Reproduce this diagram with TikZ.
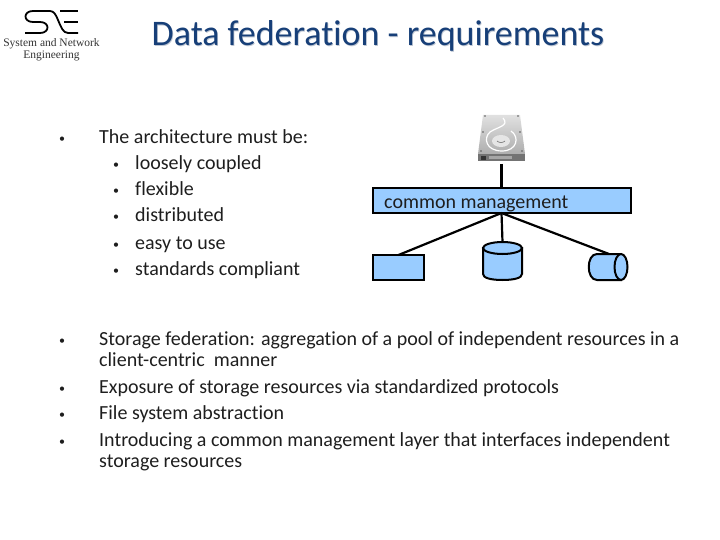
\documentclass[tikz,border=0pt]{standalone}
\usepackage{fontspec}
\setmainfont[Ligatures=NoCommon]{Carlito}
\newfontfamily\logofont{Liberation Serif}
\usetikzlibrary{shapes.geometric}
\definecolor{titleblue}{RGB}{23,63,120}
\definecolor{titleshadow}{RGB}{190,198,210}
\definecolor{fillblue}{RGB}{153,204,255}
\definecolor{bodyink}{RGB}{30,30,30}
\tikzset{
  x=1pt,y=-1pt,
  bodytext/.style={anchor=base west,inner sep=0pt,font=\fontsize{20}{22}\selectfont,text=bodyink},
  bullet/.style={anchor=base west,inner sep=0pt,font=\fontsize{12}{14}\selectfont,text=bodyink},
  shapebox/.style={draw=black,line width=2pt,fill=fillblue},
  link/.style={draw=black,line width=2.2pt},
  logoline/.style={draw=black,line width=1.8pt},
  logotext/.style={anchor=base,inner sep=0pt,font=\logofont\fontsize{11.5}{13}\selectfont,text=black!80},
}
\begin{document}
\begin{tikzpicture}
\useasboundingbox (0,0) rectangle (720,540);
% logo
\draw[logoline] (47,11) -- (33,11) .. controls (23,11) and (23,22) .. (33,22) -- (40,22) .. controls (50,22) and (50,33) .. (40,33) -- (25,33);
\draw[logoline] (47,11) -- (50,11) .. controls (54,11) and (56,15) .. (58,20) .. controls (61,27) and (63,33) .. (68,33) -- (78,33);
\draw[logoline] (60,11) -- (78,11) (64,22) -- (78,22);
\node[logotext] (logoa) at (51.5,47) {System and Network};
\node[logotext] (logob) at (51.5,59) {Engineering};
% title
\node[anchor=base,inner sep=0pt,font=\fontsize{36}{40}\selectfont,text=titleshadow] (titleshade) at (378.7,46.7) {Data federation - requirements};
\node[anchor=base,inner sep=0pt,font=\fontsize{36}{40}\selectfont,text=titleblue] (title) at (378,46) {Data federation - requirements};
% upper list
\node[bullet] (b0) at (59,143) {•};
\node[bodytext] (t0) at (99,144) {The architecture must be:};
\node[bullet] (b1) at (113,169) {•};
\node[bodytext] (t1) at (135,170) {loosely coupled};
\node[bullet] (b2) at (113,195) {•};
\node[bodytext] (t2) at (135,196) {flexible};
\node[bullet] (b3) at (113,221) {•};
\node[bodytext] (t3) at (135,222) {distributed};
\node[bullet] (b4) at (113,248) {•};
\node[bodytext] (t4) at (135,249) {easy to use};
\node[bullet] (b5) at (113,274) {•};
\node[bodytext] (t5) at (135,275) {standards compliant};
% lower list
\node[bullet] (b6) at (59,344) {•};
\node[bodytext] (t6) at (99,345) {Storage federation: aggregation of a pool of independent resources in a};
\node[bodytext] (t6b) at (99,366) {client-centric\ \ manner};
\node[bullet] (b7) at (59,392) {•};
\node[bodytext] (t7) at (99,393) {Exposure of storage resources via standardized protocols};
\node[bullet] (b8) at (59,418) {•};
\node[bodytext] (t8) at (99,419) {File system abstraction};
\node[bullet] (b9) at (59,445) {•};
\node[bodytext] (t9) at (99,446) {Introducing a common management layer that interfaces independent};
\node[bodytext] (t9b) at (99,467) {storage resources};
% disk drawing
\shade[top color=black!12,bottom color=black!32] (483,115) -- (520,115) -- (525,154) -- (478,154) -- cycle;
\fill[black!55] (478,154) -- (525,154) -- (525,161) -- (478,161) -- cycle;
\fill[black!35] (489,156) rectangle (512,159);
\fill[black!80] (481,156) rectangle (486,160);
\draw[white,line width=1.2pt] (503,118) .. controls (510,126) and (497,127) .. (490,132) .. controls (483,138) and (486,151) .. (502,151) .. controls (517,151) and (520,137) .. (511,131);
\fill[black!10] (501,141) ellipse [x radius=9,y radius=6];
\draw[black!55,line width=0.6pt] (497,141) .. controls (499,143) and (503,143) .. (505,141);
\coordinate (diskbottom) at (501.5,164);
\foreach \px/\py in {485/116,518/116,483/132,520/132,481/151,522/151}{\fill[black!65] (\px,\py) circle [radius=0.8];}
% nodes
\node[shapebox,minimum width=258,minimum height=25,anchor=north west,inner sep=0pt,outer sep=0pt] (mgmt) at (373,188) {};
\node[anchor=base west,inner sep=0pt,font=\fontsize{20}{22}\selectfont,text=bodyink] (mgmtlabel) at (384,208) {common management};
\node[shapebox,minimum width=51,minimum height=25,anchor=north west,inner sep=0pt,outer sep=0pt] (store) at (373,255) {};
\draw[shapebox] (483,248) -- (483,274) .. controls (483,278) and (491,280) .. (502.5,280) .. controls (514,280) and (522,278) .. (522,274) -- (522,248) -- cycle;
\node[draw=black,line width=2pt,fill=fillblue,ellipse,minimum width=39,minimum height=12,inner sep=0pt,outer sep=0pt] (dbcap) at (502.5,248) {};
\draw[shapebox] (597,254) -- (621,254) -- (621,280) -- (597,280) .. controls (586,280) and (586,254) .. (597,254) -- cycle;
\node[draw=black,line width=2pt,fill=fillblue,ellipse,minimum width=13,minimum height=26,inner sep=0pt,outer sep=0pt] (tape) at (621,267) {};
\coordinate (tapetop) at (609,254);
% connectors
\draw[link] (diskbottom) -- (mgmt.north -| diskbottom);
\coordinate (hub) at (mgmt.south -| diskbottom);
\draw[link] (hub) -- (store.north);
\draw[link] (hub) -- (dbcap.north);
\draw[link] (hub) -- (tapetop);
\end{tikzpicture}
\end{document}
